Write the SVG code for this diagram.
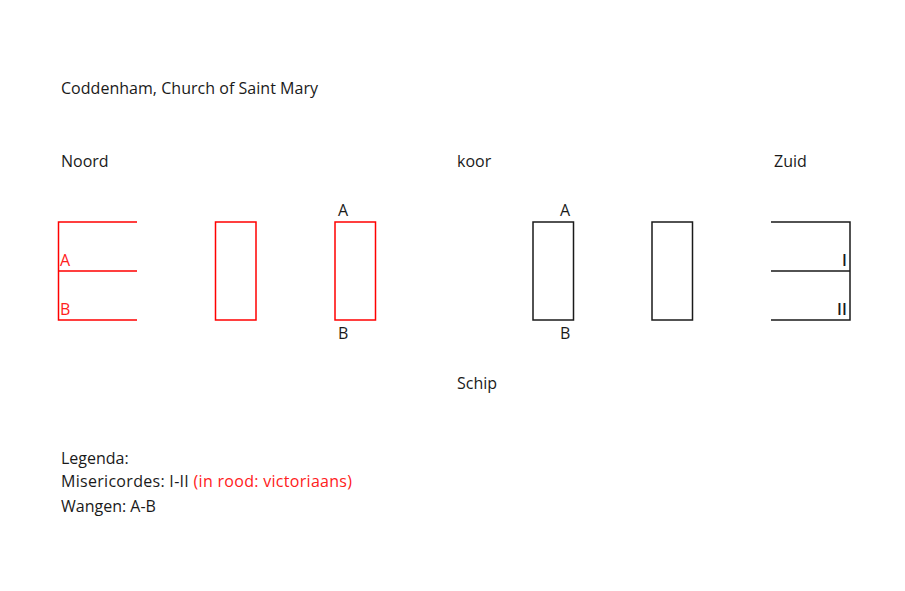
<svg xmlns="http://www.w3.org/2000/svg" width="905" height="591" viewBox="0 0 905 591">
<style>
text{font-family:"Open Sans","Liberation Sans",sans-serif;font-size:16px;fill:#1a1a1a}
.r{stroke:#ff0000;stroke-width:1.5;fill:none}
.k{stroke:#1a1a1a;stroke-width:1.5;fill:none}
.rt{fill:#ff2020}
</style>
<rect width="905" height="591" fill="#fff"/>
<text x="61" y="94" textLength="257">Coddenham, Church of Saint Mary</text>
<text x="61" y="167">Noord</text>
<text x="457" y="167">koor</text>
<text x="774" y="167">Zuid</text>
<text x="457" y="389">Schip</text>
<g id="north-bracket">
<path class="r" d="M137,222H58.5V320H137M58.5,271H137"/>
<text class="rt" x="60" y="266">A</text>
<text class="rt" x="60" y="315">B</text>
</g>
<g id="north-stall-1"><rect class="r" x="215.5" y="222" width="40.5" height="98"/></g>
<g id="north-stall-2">
<rect class="r" x="335" y="222" width="40.5" height="98"/>
<text x="338" y="216">A</text>
<text x="338" y="339">B</text>
</g>
<g id="south-stall-1">
<rect class="k" x="533" y="222" width="40.5" height="98"/>
<text x="560" y="216">A</text>
<text x="560" y="339">B</text>
</g>
<g id="south-stall-2"><rect class="k" x="652" y="222" width="40.5" height="98"/></g>
<g id="south-bracket">
<path class="k" d="M771,222H850V320H771M771,271H850"/>
<text x="842" y="266" font-weight="600">I</text>
<text x="837" y="315" font-weight="600">II</text>
</g>
<g id="connectors"></g>
<text x="61" y="464">Legenda:</text>
<text x="61" y="487" textLength="291">Misericordes: I-II <tspan class="rt">(in rood: victoriaans)</tspan></text>
<text x="61" y="512">Wangen: A-B</text>
</svg>
